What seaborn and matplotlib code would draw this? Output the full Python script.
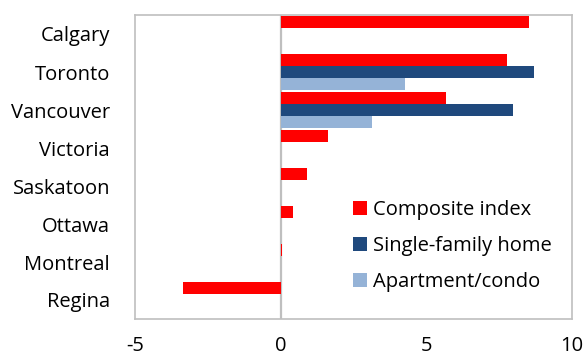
import numpy as np
import pandas as pd
import matplotlib
matplotlib.use("Agg")
import matplotlib.pyplot as plt
import seaborn as sns

# Year-over-year house price change (%) by city
cities = ["Calgary", "Toronto", "Vancouver", "Victoria",
          "Saskatoon", "Ottawa", "Montreal", "Regina"]
composite = [8.53, 7.76, 5.67, 1.64, 0.92, 0.41, 0.05, -3.34]
single_family = [np.nan, 8.71, 7.97, np.nan, np.nan, np.nan, np.nan, np.nan]
apartment = [np.nan, 4.27, 3.15, np.nan, np.nan, np.nan, np.nan, np.nan]

series_names = ["Composite index", "Single-family home", "Apartment/condo"]
colors = ["#FF0000", "#1F497D", "#95B3D7"]

df = pd.DataFrame({
    "city": cities * 3,
    "series": np.repeat(series_names, len(cities)),
    "value": composite + single_family + apartment,
})

sns.set_theme(style="white")
plt.rcParams["font.family"] = ["Open Sans", "DejaVu Sans"]
FS = 14.5

fig = plt.figure(figsize=(5.85, 3.58), dpi=100)
ax = fig.add_axes([135 / 585, 1 - 319 / 358, (572 - 135) / 585, (319 - 15) / 358])

sns.barplot(data=df, y="city", x="value", hue="series",
            order=cities, hue_order=series_names,
            palette=colors, orient="h", width=0.94, gap=0,
            saturation=1, ax=ax, legend=True, linewidth=0)

grey = "#BFBFBF"
ax.axvline(0, color=grey, lw=1.6, zorder=0.5)
ax.set_xlim(-5, 10)
ax.set_xticks([-5, 0, 5, 10])
ax.set_xticklabels(["-5", "0", "5", "10"])
ax.set_xlabel("")
ax.set_ylabel("")
for side in ["left", "right", "top", "bottom"]:
    ax.spines[side].set_visible(True)
    ax.spines[side].set_color(grey)
    ax.spines[side].set_linewidth(1.2)
ax.tick_params(axis="x", direction="in", length=4, width=1, color=grey,
               labelsize=FS, pad=12.5, labelcolor="#000000")
ax.tick_params(axis="y", length=0, labelsize=FS, pad=18, labelcolor="#000000")

leg = ax.legend(loc="upper left", bbox_to_anchor=(353 / 585, 1 - 200 / 358),
                bbox_transform=fig.transFigure, frameon=False, fontsize=FS,
                handlelength=0.7, handleheight=0.7, handletextpad=0.3,
                labelspacing=0.8, borderpad=0, borderaxespad=0)
for t in leg.get_texts():
    t.set_color("#000000")

fig.savefig("out.png", dpi=100)
